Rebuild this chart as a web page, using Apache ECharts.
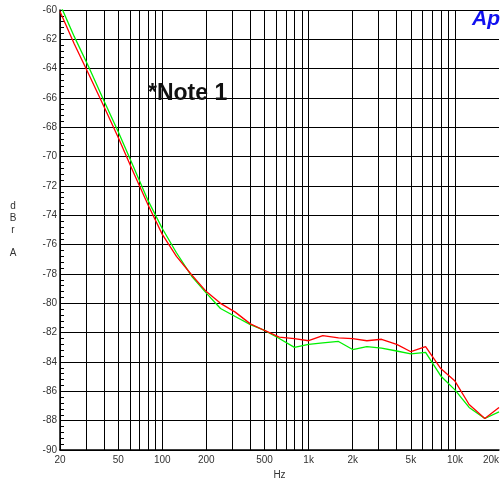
<!DOCTYPE html>
<html>
<head>
<meta charset="utf-8">
<script src="https://cdn.jsdelivr.net/npm/echarts@6/dist/echarts.min.js"></script>
<style>
html,body{margin:0;padding:0;background:#fff;overflow:hidden;}
#c{width:501px;height:482px;}
</style>
</head>
<body>
<div id="c"></div>
<script>
const freqs = [20,25,31.5,40,50,63,80,100,125,160,200,250,315,400,500,630,800,1000,1250,1600,2000,2500,3150,4000,5000,6300,8000,10000,12500,16000,20000];
const redValues = [-60.1,-62.3,-64.4,-66.6,-68.7,-71.0,-73.3,-75.3,-76.8,-78.1,-79.2,-80.0,-80.6,-81.4,-81.85,-82.3,-82.4,-82.55,-82.2,-82.35,-82.4,-82.55,-82.45,-82.8,-83.3,-82.95,-84.45,-85.3,-86.9,-87.85,-87.1];
const greenValues = [-59.6,-61.8,-63.9,-66.2,-68.3,-70.6,-73.0,-74.9,-76.55,-78.2,-79.3,-80.35,-80.9,-81.45,-81.85,-82.4,-83.0,-82.8,-82.7,-82.6,-83.15,-82.95,-83.05,-83.25,-83.45,-83.35,-84.95,-85.9,-87.1,-87.85,-87.4];
const xGridValues = [20,30,40,50,60,70,80,90,100,200,300,400,500,600,700,800,900,1000,2000,3000,4000,5000,6000,7000,8000,9000,10000,20000];
const xLabelValues = [20,50,100,200,500,1000,2000,5000,10000,20000];
const yMin = -90, yMax = -60, yStep = 2;

const chart = echarts.init(document.getElementById('c'), null, {renderer:'canvas', width: 501, height: 482});
const fmtHz = v => v >= 1000 ? (v/1000) + 'k' : String(v);
chart.setOption({
  animation: false,
  backgroundColor: '#fff',
  grid: {left: 60, right: 2, top: 10, bottom: 32, containLabel: false, outerBoundsMode: 'none'},
  xAxis: {
    type: 'log', min: 20, max: 20000, logBase: 10,
    name: 'Hz', nameLocation: 'middle', nameGap: 19,
    nameTextStyle: {fontSize: 10, color: '#333', fontFamily: 'Liberation Sans'},
    axisLine: {show: true, onZero: false, lineStyle: {color: '#000', width: 1.5}},
    axisTick: {show: false, customValues: xGridValues},
    axisLabel: {customValues: xLabelValues, formatter: fmtHz, fontSize: 10, color: '#333', margin: 5, fontFamily: 'Liberation Sans', alignMaxLabel: 'right'},
    splitLine: {show: true, showMaxLine: false, lineStyle: {color: '#000', width: 1}},
    minorTick: {show: false}, minorSplitLine: {show: false}
  },
  yAxis: {
    type: 'value', min: yMin, max: yMax, interval: yStep,
    name: 'd\nB\nr\n\nA', nameLocation: 'middle', nameGap: 47, nameRotate: 0,
    nameTextStyle: {fontSize: 10, color: '#333', lineHeight: 11.7, fontFamily: 'Liberation Sans', align: 'center', padding: [3, 0, 0, 0]},
    axisLine: {show: true, onZero: false, lineStyle: {color: '#000', width: 1.5}},
    axisTick: {show: true, inside: true, length: 4, lineStyle: {color: '#000'}},
    minorTick: {show: true, splitNumber: 5, length: 4, lineStyle: {color: '#000'}},
    axisLabel: {fontSize: 10, color: '#333', margin: 3, fontFamily: 'Liberation Sans'},
    splitLine: {show: true, lineStyle: {color: '#000', width: 1}}
  },
  series: [
    {type: 'line', name: 'red', data: freqs.map((f,i)=>[f, redValues[i]]), showSymbol: false, symbol: 'none', smooth: false, clip: true,
      lineStyle: {color: '#ff0000', width: 1.3}, z: 3},
    {type: 'line', name: 'green', data: freqs.map((f,i)=>[f, greenValues[i]]), showSymbol: false, symbol: 'none', smooth: false, clip: true,
      lineStyle: {color: '#00f000', width: 1.3}, z: 2}
  ],
  graphic: [
    {type: 'text', left: 148, top: 82, z: 10, style: {text: '*Note 1', font: 'bold 23px "Liberation Sans", Arial, sans-serif', fill: '#111'}},
    {type: 'text', right: 1, top: 9, z: 10, style: {text: 'Ap', font: 'italic bold 21px "Liberation Sans", Arial, sans-serif', fill: '#1010f0'}}
  ]
});
</script>
</body>
</html>
